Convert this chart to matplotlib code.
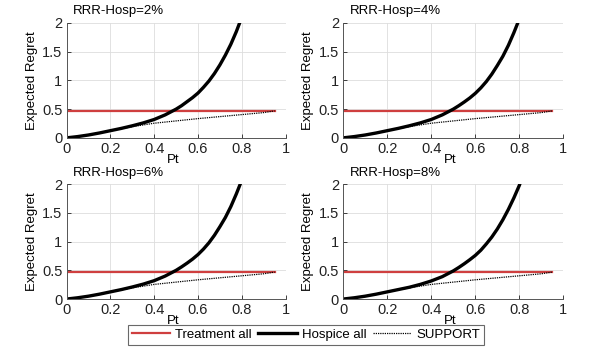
import matplotlib
matplotlib.use("Agg")
import matplotlib.pyplot as plt

plt.rcParams["font.family"] = ["Liberation Sans", "DejaVu Sans"]

# panel titles
titles = ["RRR-Hosp=2%", "RRR-Hosp=4%", "RRR-Hosp=6%", "RRR-Hosp=8%"]

# threshold probability grid for the hospice curve
pt_hosp = [0, 0.05, 0.1, 0.15, 0.2, 0.25, 0.3, 0.35, 0.4, 0.45, 0.5, 0.525,
           0.55, 0.575, 0.6, 0.625, 0.65, 0.675, 0.7, 0.725, 0.75, 0.775,
           0.8, 0.825]
hosp_2 = [0, 0.022, 0.05, 0.085, 0.125, 0.165, 0.21, 0.26, 0.32, 0.40, 0.50,
          0.56, 0.63, 0.70, 0.78, 0.88, 0.99, 1.12, 1.27, 1.44, 1.63, 1.85,
          2.1, 2.4]
hosp_4 = [0, 0.022, 0.05, 0.085, 0.125, 0.165, 0.21, 0.26, 0.32, 0.40, 0.50,
          0.56, 0.625, 0.695, 0.775, 0.87, 0.98, 1.11, 1.26, 1.42, 1.61, 1.83,
          2.07, 2.36]
hosp_6 = [0, 0.022, 0.05, 0.085, 0.125, 0.165, 0.21, 0.26, 0.32, 0.40, 0.50,
          0.56, 0.625, 0.695, 0.775, 0.87, 0.98, 1.11, 1.26, 1.42, 1.61, 1.83,
          2.07, 2.36]
hosp_8 = [0, 0.022, 0.05, 0.085, 0.125, 0.165, 0.205, 0.255, 0.315, 0.39, 0.49,
          0.55, 0.615, 0.685, 0.76, 0.85, 0.96, 1.08, 1.22, 1.38, 1.56, 1.76,
          1.98, 2.25]
hospice = [hosp_2, hosp_4, hosp_6, hosp_8]

# treat-all regret (flat)
pt_treat = [0, 0.95]
treat_all = [0.47, 0.47]

# SUPPORT model regret
pt_support = [0, 0.05, 0.1, 0.15, 0.2, 0.25, 0.3, 0.4, 0.5, 0.6, 0.7, 0.8, 0.9, 0.95]
support = [0, 0.022, 0.05, 0.085, 0.125, 0.16, 0.195, 0.255, 0.295, 0.335, 0.37, 0.405, 0.44, 0.47]

x_ticks = [0, 0.2, 0.4, 0.6, 0.8, 1]
x_ticklabels = ["0", "0.2", "0.4", "0.6", "0.8", "1"]
y_ticks = [0, 0.5, 1, 1.5, 2]
y_ticklabels = ["0", "0.5", "1", "1.5", "2"]

red = "#cf3f3f"

fig = plt.figure(figsize=(6.0, 3.59), dpi=100)
positions = [
    [0.111, 0.616, 0.365, 0.320],
    [0.572, 0.616, 0.367, 0.320],
    [0.111, 0.167, 0.365, 0.320],
    [0.572, 0.167, 0.367, 0.320],
]

handles = None
for i, pos in enumerate(positions):
    ax = fig.add_axes(pos)
    h1, = ax.plot(pt_treat, treat_all, color=red, lw=1.6, label="Treatment all")
    h2, = ax.plot(pt_hosp, hospice[i], color="black", lw=2.4, label="Hospice all",
                  solid_joinstyle="round")
    h3, = ax.plot(pt_support, support, color="black", lw=0.9, ls=(0, (1, 0.8)),
                  label="SUPPORT")
    handles = [h1, h2, h3]

    ax.set_xlim(0, 1)
    ax.set_ylim(0, 2)
    ax.set_xticks(x_ticks)
    ax.set_xticklabels(x_ticklabels)
    ax.set_yticks(y_ticks)
    ax.set_yticklabels(y_ticklabels)
    ax.tick_params(direction="in", length=3, width=0.6, labelsize=10.5, pad=3,
                   colors="#222222")
    ax.grid(True, color="#dddddd", lw=0.6)
    ax.set_axisbelow(True)
    for side in ("top", "right"):
        ax.spines[side].set_visible(False)
    for side in ("left", "bottom"):
        ax.spines[side].set_color("#555555")
        ax.spines[side].set_linewidth(0.7)

    ax.set_ylabel("Expected Regret", fontsize=9.5, labelpad=3)
    ax.text(0.485, -0.19, "Pt", transform=ax.transAxes, ha="center",
            va="center", fontsize=9.5)
    ax.text(0.03, 1.10, titles[i], transform=ax.transAxes, ha="left",
            va="center", fontsize=9.5)

leg = fig.legend(handles=handles, loc="center", bbox_to_anchor=(0.51, 0.068),
                 ncol=3, fontsize=9.5, frameon=True, fancybox=False,
                 handlelength=2.9, handletextpad=0.4, columnspacing=0.5,
                 borderpad=0.3)
leg.get_frame().set_edgecolor("#444444")
leg.get_frame().set_linewidth(0.8)

fig.savefig("out.png", dpi=100)
